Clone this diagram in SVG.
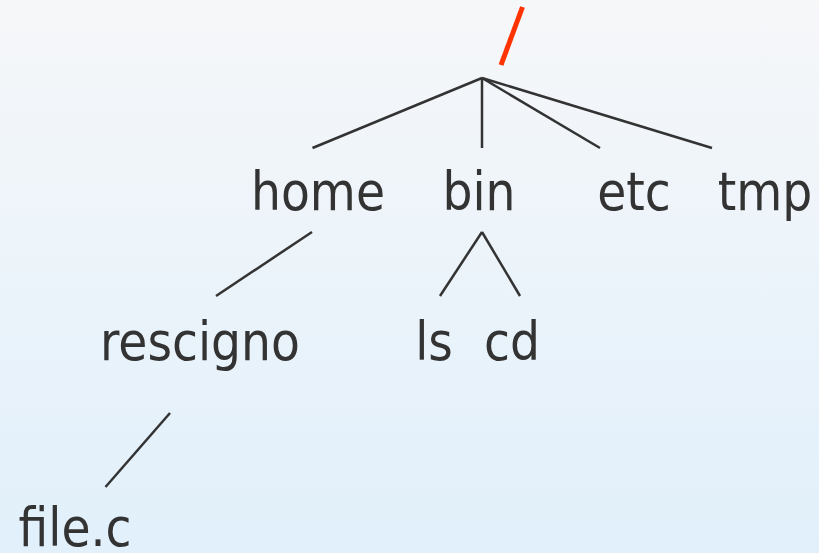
<svg xmlns="http://www.w3.org/2000/svg" width="819" height="553" viewBox="0 0 819 553">
  <defs>
    <linearGradient id="bg" x1="0" y1="0" x2="0" y2="1">
      <stop offset="0" stop-color="#f6f7f9"/>
      <stop offset="1" stop-color="#e1f0fb"/>
    </linearGradient>
    <style>
      .label { font-family: "DejaVu Sans Condensed", "DejaVu Sans", sans-serif; font-size: 52.5px; fill: #333333; text-anchor: middle; }
      .edge { stroke: #333333; stroke-width: 2.5; fill: none; stroke-linecap: butt; }
    </style>
  </defs>
  <rect width="819" height="553" fill="url(#bg)"/>

  <!-- root directory -->
  <g id="root">
    <line x1="522.5" y1="7" x2="501" y2="65" stroke="#ff3300" stroke-width="5"/>
  </g>

  <!-- directory tree edges -->
  <g id="connectors">
    <line class="edge" x1="482" y1="78" x2="312.5" y2="148"/>
    <line class="edge" x1="482" y1="78" x2="482" y2="148"/>
    <line class="edge" x1="482" y1="78" x2="600" y2="148"/>
    <line class="edge" x1="482" y1="78" x2="712" y2="148"/>
    <line class="edge" x1="312" y1="232" x2="216" y2="296"/>
    <line class="edge" x1="482" y1="232" x2="440" y2="296"/>
    <line class="edge" x1="482" y1="232" x2="520" y2="296"/>
    <line class="edge" x1="170" y1="413" x2="105.5" y2="487"/>
  </g>

  <g id="home"><text class="label" x="318" y="210">home</text></g>
  <g id="bin"><text class="label" x="479" y="210">bin</text></g>
  <g id="etc"><text class="label" x="634" y="210">etc</text></g>
  <g id="tmp"><text class="label" x="765" y="210">tmp</text></g>
  <g id="rescigno"><text class="label" x="200" y="360">rescigno</text></g>
  <g id="ls"><text class="label" x="434" y="360">ls</text></g>
  <g id="cd"><text class="label" x="512" y="360">cd</text></g>
  <g id="file-c"><text class="label" x="75" y="546">file.c</text></g>
</svg>
